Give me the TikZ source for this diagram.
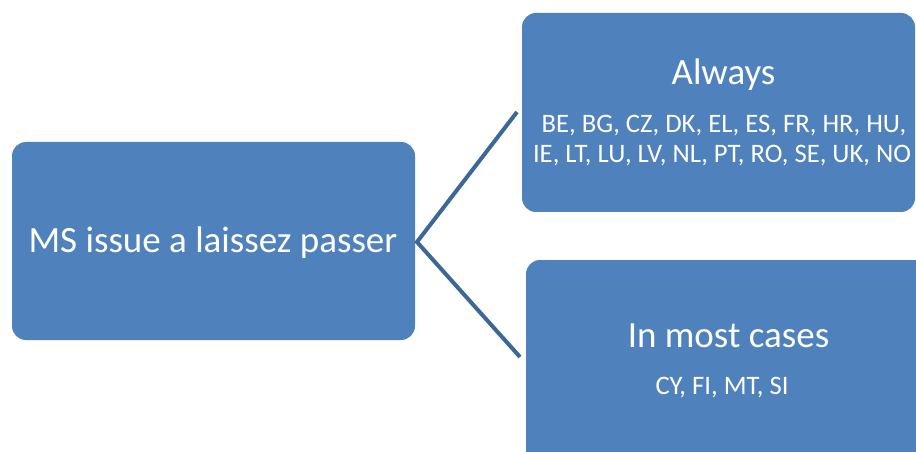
\documentclass[tikz,border=0pt]{standalone}
\usepackage{fontspec}
\setmainfont{Carlito}
\definecolor{boxblue}{RGB}{79,129,189}
\definecolor{linkblue}{RGB}{60,103,152}
\tikzset{
  card/.style={fill=boxblue, draw=none, rounded corners=10.5pt, inner sep=0pt},
  bigtxt/.style={text=white, font=\fontsize{27.75}{33}\selectfont, anchor=base, inner sep=0pt},
  smalltxt/.style={text=white, font=\fontsize{20}{24}\selectfont, anchor=base, inner sep=0pt},
  link/.style={draw=linkblue, line width=3pt}
}
\begin{document}
\begin{tikzpicture}[x=0.75pt, y=-0.75pt]
  \useasboundingbox (0,0) rectangle (916,452);
  \clip (0,0) rectangle (916,452);

  % the three boxes
  \path[card] (12,142) rectangle (415,340) node[midway] (ms) {};
  \path[card] (522,13) rectangle (915,212) node[midway] (always) {};
  \path[card] (526,260) rectangle (960,500) node[midway] (most) {};

  % connectors fanning out from the left box
  \coordinate (apex) at (417,242);
  \coordinate (topend) at (517,112);
  \coordinate (botend) at (520,357);
  \draw[link, line join=miter] (topend) -- (apex) -- (botend);

  % texts
  \node[bigtxt] (mstxt) at (213,252) {MS issue a laissez passer};
  \node[bigtxt] (alwaystxt) at (723.5,85) {Always};
  \node[smalltxt] (line1) at (724,133) {BE, BG, CZ, DK, EL, ES, FR, HR, HU,};
  \node[smalltxt] (line2) at (722,163) {IE, LT, LU, LV, NL, PT, RO, SE, UK, NO};
  \node[bigtxt] (mosttxt) at (728.5,347) {In most cases};
  \node[smalltxt] (line3) at (722,394) {CY, FI, MT, SI};
\end{tikzpicture}
\end{document}
